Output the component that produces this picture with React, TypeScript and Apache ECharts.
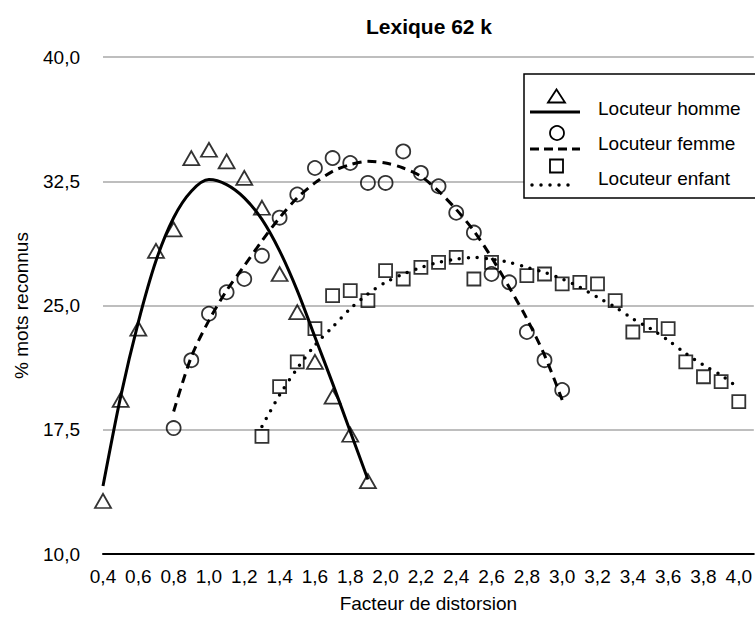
import React, { useEffect, useRef } from "react";
import * as echarts from "echarts";

const FONT = "'Liberation Sans', Arial, Helvetica, sans-serif";

const hommeX = [0.4, 0.5, 0.6, 0.7, 0.8, 0.9, 1.0, 1.1, 1.2, 1.3, 1.4, 1.5, 1.6, 1.7, 1.8, 1.9];
const hommeY = [13.2, 19.3, 23.6, 28.3, 29.6, 33.9, 34.4, 33.7, 32.7, 30.9, 26.9, 24.6, 21.6, 19.5, 17.2, 14.4];
const hommeFitY = [14.1, 19.5, 24.0, 27.7, 30.3, 31.9, 32.6, 32.3, 31.5, 30.2, 28.3, 25.9, 23.1, 20.3, 17.4, 14.5];

const femmeX = [0.8, 0.9, 1.0, 1.1, 1.2, 1.3, 1.4, 1.5, 1.6, 1.7, 1.8, 1.9, 2.0, 2.1, 2.2, 2.3, 2.4, 2.5, 2.6, 2.7, 2.8, 2.9, 3.0];
const femmeY = [17.6, 21.7, 24.5, 25.8, 26.6, 28.0, 30.3, 31.7, 33.3, 33.9, 33.6, 32.4, 32.4, 34.3, 33.0, 32.2, 30.6, 29.4, 26.9, 26.4, 23.4, 21.7, 19.9];
const femmeFitY = [18.6, 21.9, 24.1, 25.9, 27.4, 28.9, 30.3, 31.5, 32.4, 33.1, 33.5, 33.7, 33.6, 33.3, 32.8, 31.9, 30.8, 29.5, 27.9, 26.1, 24.2, 22.0, 19.3];

const enfantX = [1.3, 1.4, 1.5, 1.6, 1.7, 1.8, 1.9, 2.0, 2.1, 2.2, 2.3, 2.4, 2.5, 2.6, 2.8, 2.9, 3.0, 3.1, 3.2, 3.3, 3.4, 3.5, 3.6, 3.7, 3.8, 3.9, 4.0];
const enfantY = [17.1, 20.1, 21.6, 23.6, 25.6, 25.9, 25.3, 27.1, 26.6, 27.3, 27.6, 27.9, 26.6, 27.6, 26.8, 26.9, 26.3, 26.4, 26.3, 25.3, 23.4, 23.8, 23.6, 21.6, 20.7, 20.4, 19.2];
const enfantFitX = [1.3, 1.4, 1.5, 1.6, 1.7, 1.8, 1.9, 2.0, 2.1, 2.2, 2.3, 2.4, 2.5, 2.6, 2.7, 2.8, 2.9, 3.0, 3.1, 3.2, 3.3, 3.4, 3.5, 3.6, 3.7, 3.8, 3.9, 4.0];
const enfantFitY = [17.7, 19.6, 21.2, 22.6, 23.7, 24.8, 25.7, 26.4, 26.9, 27.3, 27.6, 27.8, 27.9, 27.8, 27.6, 27.3, 27.0, 26.6, 26.1, 25.5, 24.9, 24.2, 23.6, 22.9, 22.1, 21.4, 20.8, 20.0];

const seriesNames = ["Locuteur homme", "Locuteur femme", "Locuteur enfant"];
const titleText = "Lexique 62 k";
const xName = "Facteur de distorsion";
const yName = "% mots reconnus";

const zip = (xs: number[], ys: number[]) => xs.map((x, i) => [x, ys[i]]);
const fmt = (v: number) => v.toFixed(1).replace(".", ",");

export default function App() {
  const ref = useRef<HTMLDivElement>(null);
  useEffect(() => {
    if (!ref.current) return;
    const chart = echarts.init(ref.current, undefined, { renderer: "svg" });
    const marker = {
      color: "rgba(255,255,255,0)",
      borderColor: "#000",
      borderWidth: 1.8,
    };
    const fitLine = (data: number[][], type: any, width: number, cap = "butt") => ({
      type: "line",
      data,
      smooth: 0.3,
      showSymbol: false,
      symbol: "none",
      silent: true,
      lineStyle: { color: "#000", width, type, cap },
      z: 2,
    });
    chart.setOption({
      animation: false,
      grid: { left: 103, right: 0, top: 57, bottom: 63, containLabel: false },
      xAxis: {
        type: "value",
        min: 0.4,
        max: 4.085,
        interval: 0.2,
        name: xName,
        nameLocation: "middle",
        nameGap: 40,
        nameTextStyle: { color: "#000", fontSize: 19, fontFamily: FONT },
        axisLine: { show: true, lineStyle: { color: "#000", width: 2 } },
        axisTick: { show: false },
        splitLine: { show: false },
        axisLabel: {
          color: "#000",
          fontSize: 19,
          fontFamily: FONT,
          margin: 13,
          showMaxLabel: false,
          formatter: (v: number) => fmt(v),
        },
      },
      yAxis: {
        type: "value",
        min: 10,
        max: 40,
        interval: 7.5,
        name: yName,
        nameLocation: "middle",
        nameGap: 72,
        nameTextStyle: { color: "#000", fontSize: 19, fontFamily: FONT },
        axisLine: { show: false },
        axisTick: { show: false },
        splitLine: { show: true, lineStyle: { color: "#a8a8a8", width: 1.6 } },
        axisLabel: {
          color: "#000",
          fontSize: 19,
          fontFamily: FONT,
          margin: 23,
          formatter: (v: number) => fmt(v),
        },
      },
      series: [
        fitLine(zip(hommeX, hommeFitY), "solid", 3),
        fitLine(zip(femmeX, femmeFitY), [9, 6], 3),
        fitLine(zip(enfantFitX, enfantFitY), [0, 9], 3.5, "round"),
        {
          name: seriesNames[0],
          type: "scatter",
          data: zip(hommeX, hommeY),
          symbol: "triangle",
          symbolSize: [16, 14],
          itemStyle: marker,
          z: 3,
        },
        {
          name: seriesNames[1],
          type: "scatter",
          data: zip(femmeX, femmeY),
          symbol: "circle",
          symbolSize: 14,
          itemStyle: marker,
          z: 3,
        },
        {
          name: seriesNames[2],
          type: "scatter",
          data: zip(enfantX, enfantY),
          symbol: "rect",
          symbolSize: 13,
          itemStyle: marker,
          z: 3,
        },
      ],
      graphic: [
        {
          type: "text",
          x: 429,
          y: 26,
          z: 100,
          style: {
            text: titleText,
            fill: "#000",
            font: `bold 21px ${FONT}`,
            textAlign: "center",
            textVerticalAlign: "middle",
          },
        },
        {
          type: "rect",
          z: 100,
          shape: { x: 524, y: 74, width: 260, height: 124 },
          style: { fill: "#fff", stroke: "#000", lineWidth: 1.5 },
        },
        {
          type: "polygon",
          z: 101,
          shape: { points: [[548, 102.5], [556.5, 89.5], [565, 102.5]] },
          style: { fill: "none", stroke: "#000", lineWidth: 1.8 },
        },
        {
          type: "line",
          z: 101,
          shape: { x1: 530, y1: 112, x2: 580, y2: 112 },
          style: { stroke: "#000", lineWidth: 3 },
        },
        {
          type: "circle",
          z: 101,
          shape: { cx: 557, cy: 133, r: 7 },
          style: { fill: "none", stroke: "#000", lineWidth: 1.8 },
        },
        {
          type: "line",
          z: 101,
          shape: { x1: 530, y1: 149, x2: 580, y2: 149 },
          style: { stroke: "#000", lineWidth: 3, lineDash: [9, 5] },
        },
        {
          type: "rect",
          z: 101,
          shape: { x: 550, y: 159.5, width: 13, height: 13 },
          style: { fill: "none", stroke: "#000", lineWidth: 1.8 },
        },
        {
          type: "line",
          z: 101,
          shape: { x1: 532, y1: 185, x2: 572, y2: 185 },
          style: { stroke: "#000", lineWidth: 3.5, lineDash: [0, 9], lineCap: "round" },
        },
        {
          type: "text",
          z: 101,
          x: 598,
          y: 108,
          style: { text: seriesNames[0], fill: "#000", font: `19px ${FONT}`, textVerticalAlign: "middle" },
        },
        {
          type: "text",
          z: 101,
          x: 598,
          y: 143,
          style: { text: seriesNames[1], fill: "#000", font: `19px ${FONT}`, textVerticalAlign: "middle" },
        },
        {
          type: "text",
          z: 101,
          x: 598,
          y: 178,
          style: { text: seriesNames[2], fill: "#000", font: `19px ${FONT}`, textVerticalAlign: "middle" },
        },
      ],
    });
    return () => chart.dispose();
  }, []);
  return (
    <div
      ref={ref}
      style={{ position: "fixed", left: 0, top: 0, width: 755, height: 618, background: "#fff" }}
    />
  );
}
